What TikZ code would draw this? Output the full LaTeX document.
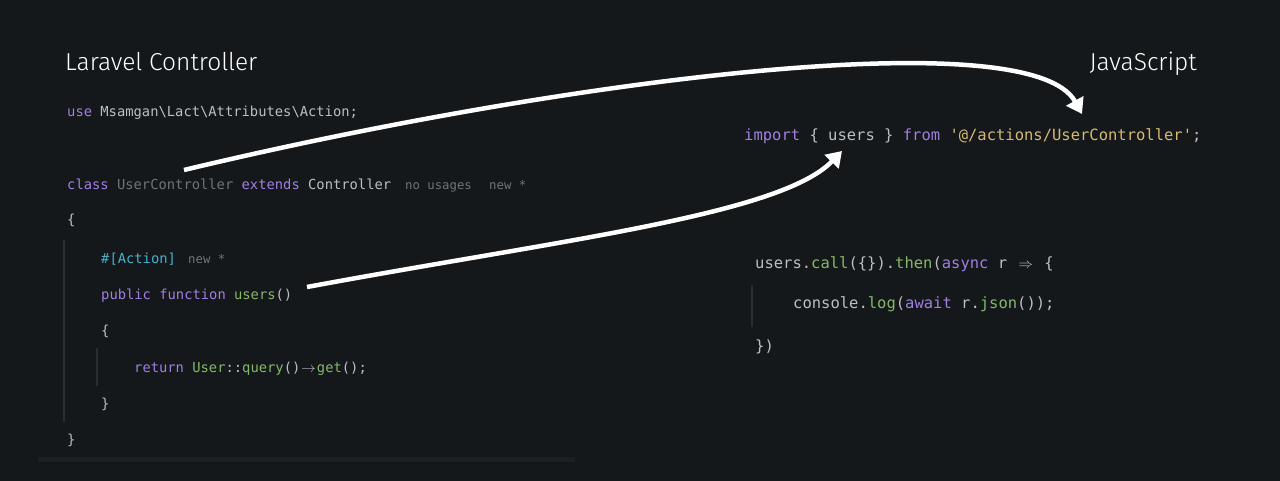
\documentclass[tikz,border=0pt]{standalone}
\usepackage{fontspec}
\usepackage{tikz}
\usetikzlibrary{arrows.meta,positioning}
\setmonofont{DejaVu Sans Mono}
\newfontfamily\headfont{Fira Sans Light}

\definecolor{bgcol}{HTML}{15181A}
\definecolor{codecol}{HTML}{BCBEC4}
\definecolor{hintcol}{HTML}{6F737A}
\definecolor{kwcol}{HTML}{A07EE2}
\definecolor{fncol}{HTML}{84B86A}
\definecolor{attrcol}{HTML}{44B2CB}
\definecolor{strcol}{HTML}{D5B872}
\definecolor{guidecol}{HTML}{2A2D30}
\definecolor{barcol}{HTML}{1D2022}

\newcommand{\kwd}[1]{\textcolor{kwcol}{#1}}
\newcommand{\fnc}[1]{\textcolor{fncol}{#1}}
\newcommand{\hint}[1]{\textcolor{hintcol}{#1}}
\newcommand{\attr}[1]{\textcolor{attrcol}{#1}}
\newcommand{\strg}[1]{\textcolor{strcol}{#1}}
\newcommand{\lig}[1]{\makebox[1.204em]{$#1$}}
\newcommand{\bs}{\textbackslash}

\tikzset{
  php/.style={font=\ttfamily\fontsize{13.8}{16}\selectfont, text=codecol, anchor=base west, inner sep=0pt},
  js/.style={php, font=\ttfamily\fontsize{15.5}{18}\selectfont},
  inlay/.style={php, font=\ttfamily\fontsize{12.3}{14}\selectfont, text=hintcol},
  heading/.style={font=\headfont\fontsize{24.5}{28}\selectfont, text=white, anchor=base west, inner sep=0pt},
  guide/.style={draw=guidecol, line width=1.2pt},
  link/.style={draw=white, line width=4.5pt, -{Triangle[width=19pt,length=15pt]}},
}

\begin{document}
\begin{tikzpicture}[x=1pt, y=-1pt]
  \fill[bgcol] (0,0) rectangle (1280,481);

  % titles
  \node[heading] (laravel) at (65,71) {Laravel Controller};
  \node[heading, anchor=base east] (jsTitle) at (1197,71) {JavaScript};

  % php side
  \node[php] (useLine) at (67,117) {\kwd{use} Msamgan\bs Lact\bs Attributes\bs Action;};
  \node[php] (classLine) at (67,190) {\kwd{class} \hint{UserController} \kwd{extends} Controller};
  \node[inlay] (classUsages) at (405,190) {no usages};
  \node[inlay] (classNew) at (489,190) {new *};
  \node[php] (classOpen) at (67,225) {\{};
  \node[php] (attrLine) at (101,263) {\attr{\#[Action]}};
  \node[inlay] (attrNew) at (188,263) {new *};
  \node[php] (fnLine) at (101,299) {\kwd{public function} \fnc{users}()};
  \node[php] (fnOpen) at (101,335) {\{};
  \node[php] (retLine) at (134,372) {\kwd{return} \fnc{User}::\fnc{query}()\lig{\rightarrow}\fnc{get}();};
  \node[php] (fnClose) at (101,408) {\}};
  \node[php] (classClose) at (67,444) {\}};

  \draw[guide] (64,240) -- (64,422);
  \draw[guide] (97,348) -- (97,386);
  \fill[barcol] (38,457) rectangle (575,462);

  % js side
  \node[js] (importLine) at (744,140.5) {\kwd{import} \{ users \} \kwd{from} \strg{'@/actions/UserController'};};
  \node[js] (callLine) at (755,268.5) {users.\fnc{call}(\{\}).\fnc{then}(\kwd{async} r \lig{\Rightarrow} \{};
  \node[js] (logLine) at (793,308.5) {console.\fnc{log}(\kwd{await} r.\fnc{json}());};
  \node[js] (callClose) at (755,351.5) {\})};

  \draw[guide] (752,285) -- (752,327);

  % arrows
  \coordinate (clsStart) at (184,170);
  \coordinate (fnStart) at (307,287);
  \coordinate (pathEnd) at (1082,114);
  \coordinate (usersEnd) at (842,151);

  \draw[link] (clsStart) .. controls (560,80) and (1030,20) .. (pathEnd);
  \draw[link] (fnStart) .. controls (560,240) and (780,215) .. (usersEnd);
\end{tikzpicture}
\end{document}
